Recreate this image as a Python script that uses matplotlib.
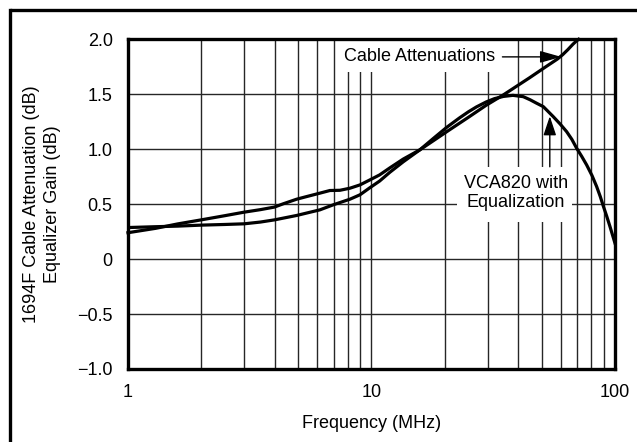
import matplotlib
matplotlib.use('Agg')
import matplotlib.pyplot as plt
from matplotlib.lines import Line2D
from matplotlib.patches import Rectangle
from matplotlib.ticker import FixedLocator, NullFormatter

plt.rcParams['font.family'] = ['Liberation Sans', 'DejaVu Sans']

# 1694F cable attenuation (dB) vs frequency (MHz)
cable_freq = [1, 1.3, 1.6, 2.0, 2.5, 3.0, 3.5, 3.99, 4.34, 4.93, 5.42, 6.14, 6.75, 7.42,
              8.16, 8.97, 9.86, 10.8, 11.9, 13.5, 15.8, 20.4, 25, 29.6, 34.8, 44.6,
              52, 58, 61, 64, 67.2, 69.5, 70.9]
cable_db = [0.24, 0.28, 0.32, 0.357, 0.395, 0.427, 0.45, 0.473, 0.503, 0.545, 0.569, 0.60,
            0.624, 0.626, 0.645, 0.675, 0.721, 0.766, 0.83, 0.91, 0.994, 1.16, 1.29, 1.40,
            1.494, 1.65, 1.75, 1.82, 1.86, 1.905, 1.955, 1.985, 2.0]

# VCA820 with equalization gain (dB) vs frequency (MHz)
vca_freq = [1, 1.27, 1.6, 2.0, 2.5, 3.0, 3.5, 4.0, 4.93, 6.14, 6.97, 8.16, 8.97, 9.86, 10.8,
            11.9, 13.5, 15.8, 18, 20.4, 23, 25, 27, 29.6, 32, 34.8, 38.1, 42, 44.8, 47.5,
            50.8, 55.8, 59.5, 63.3, 66.5, 69.6, 73, 76.5, 80.5, 84.1, 87, 89.7, 92.5,
            95.4, 100]
vca_db = [0.287, 0.294, 0.30, 0.309, 0.315, 0.321, 0.337, 0.357, 0.397, 0.448, 0.494,
          0.545, 0.585, 0.65, 0.71, 0.79, 0.885, 0.994, 1.10, 1.20, 1.285, 1.34, 1.385,
          1.43, 1.46, 1.48, 1.49, 1.478, 1.45, 1.42, 1.387, 1.296, 1.23, 1.16, 1.09,
          1.009, 0.935, 0.857, 0.76, 0.66, 0.57, 0.478, 0.39, 0.296, 0.145]

y_ticks = [-1.0, -0.5, 0, 0.5, 1.0, 1.5, 2.0]
y_labels = ['\u22121.0', '\u22120.5', '0', '0.5', '1.0', '1.5', '2.0']
x_ticks = [1, 10, 100]
x_labels = ['1', '10', '100']
x_minor = [2, 3, 4, 5, 6, 7, 8, 9, 20, 30, 40, 50, 60, 70, 80, 90]

fig = plt.figure(figsize=(6.37, 4.42), dpi=100)
ax = fig.add_axes([0.2009, 0.1652, 0.7645, 0.7459])

ax.set_xscale('log')
ax.set_xlim(1, 100)
ax.set_ylim(-1.0, 2.0)

ax.xaxis.set_major_locator(FixedLocator(x_ticks))
ax.set_xticklabels(x_labels)
ax.xaxis.set_minor_locator(FixedLocator(x_minor))
ax.xaxis.set_minor_formatter(NullFormatter())
ax.set_yticks(y_ticks)
ax.set_yticklabels(y_labels)

ax.grid(True, which='both', axis='x', color='0.15', lw=1.0)
ax.grid(True, which='major', axis='y', color='0.15', lw=1.0)
ax.set_axisbelow(True)

ax.tick_params(which='both', length=0, labelsize=13)
ax.tick_params(axis='x', pad=11)
ax.tick_params(axis='y', pad=11)
for s in ax.spines.values():
    s.set_linewidth(2.4)
    s.set_zorder(5)

ax.plot(cable_freq, cable_db, color='black', lw=2.3, zorder=3, clip_on=False,
        solid_joinstyle='round')
ax.plot(vca_freq, vca_db, color='black', lw=2.3, zorder=3, solid_joinstyle='round')

# white boxes behind the callout texts (they hide the grid)
ax.add_patch(Rectangle((7.22, 1.703), 33.4 - 7.22, 2.0 - 1.703, fc='white', ec='none',
                       zorder=2))
ax.add_patch(Rectangle((22.4, 0.339), 66.6 - 22.4, 0.839 - 0.339, fc='white', ec='none',
                       zorder=2))

ax.text(15.7, 1.84, 'Cable Attenuations', ha='center', va='center', fontsize=13,
        zorder=4)
ax.annotate('', xy=(60.2, 1.84), xytext=(34.5, 1.84), zorder=4,
            arrowprops=dict(arrowstyle='-|>,head_length=1.0,head_width=0.28',
                            mutation_scale=13, color='black', lw=1.0,
                            shrinkA=0, shrinkB=0))
ax.text(39.2, 0.60, 'VCA820 with\nEqualization', ha='center', va='center',
        fontsize=13, linespacing=1.1, zorder=4)
ax.annotate('', xy=(54, 1.30), xytext=(54, 0.84), zorder=4,
            arrowprops=dict(arrowstyle='-|>,head_length=0.9,head_width=0.3',
                            mutation_scale=13, color='black', lw=1.0,
                            shrinkA=0, shrinkB=0))

ax.set_xlabel('Frequency (MHz)', fontsize=13, labelpad=10)
ax.set_ylabel('1694F Cable Attenuation (dB)\nEqualizer Gain (dB)', fontsize=13,
              labelpad=12, linespacing=1.25)

# outer frame: only its left and top edges fall inside the image
fx = 9.5 / 637
fy = 1 - 10 / 442
fig.add_artist(Line2D([fx, fx], [0, fy], transform=fig.transFigure, color='black',
                      lw=2.4, solid_capstyle='projecting'))
fig.add_artist(Line2D([fx, 1.0], [fy, fy], transform=fig.transFigure, color='black',
                      lw=2.4, solid_capstyle='butt'))

fig.savefig('out.png', dpi=100)
